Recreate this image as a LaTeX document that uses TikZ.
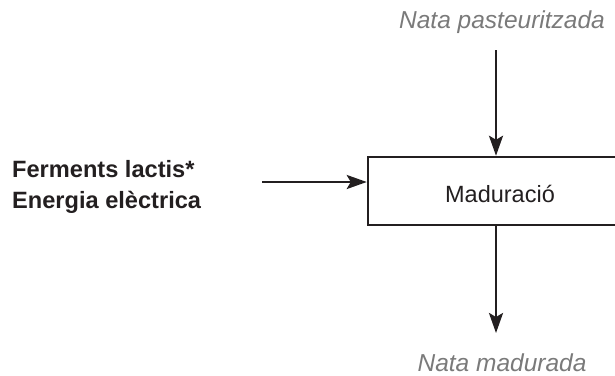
\documentclass[tikz,border=0pt]{standalone}
\usepackage{fontspec}
\setmainfont{Liberation Sans}
\usetikzlibrary{arrows.meta}
\definecolor{ink}{HTML}{231F20}
\definecolor{flowgray}{HTML}{7A7A7A}
\tikzset{
  procbox/.style={draw=ink, line width=2.5pt, minimum width=264pt, minimum height=68pt,
    inner sep=0pt},
  boxtext/.style={anchor=base, inner sep=0pt, text=ink,
    font=\fontsize{23.5}{28}\selectfont},
  inlabel/.style={anchor=base west, inner sep=0pt, text=ink,
    font=\fontsize{23.6}{28}\selectfont\bfseries},
  flowlabel/.style={anchor=base, inner sep=0pt, text=flowgray,
    font=\fontsize{24.5}{29}\selectfont\itshape},
  flow/.style={draw=ink, line width=2.5pt,
    -{Stealth[length=20pt, width=14pt, inset=4pt]}}
}
\begin{document}
\begin{tikzpicture}[x=1pt, y=-1pt]
  \useasboundingbox (0,0) rectangle (615,375);
  \clip (0,0) rectangle (615,375);
  % process step
  \node[procbox] (mad) at (500,191) {};
  \node[boxtext] (madtxt) at (500,202) {Maduració};
  % product in / out
  \node[flowlabel] (nin) at (502,28) {Nata pasteuritzada};
  \node[flowlabel] (nout) at (502,371) {Nata madurada};
  % auxiliary inputs
  \node[inlabel] (ferm) at (12,177) {Ferments lactis*};
  \node[inlabel] (ener) at (12,208) {Energia elèctrica};
  % connector ends
  \coordinate (topin) at (496,50);
  \coordinate (botout) at (496,333);
  \coordinate (leftin) at (262,182);
  \draw[flow] (topin) -- (topin |- mad.north);
  \draw[flow] (mad.south -| botout) -- (botout);
  \draw[flow] (leftin) -- (leftin -| mad.west);
\end{tikzpicture}
\end{document}
